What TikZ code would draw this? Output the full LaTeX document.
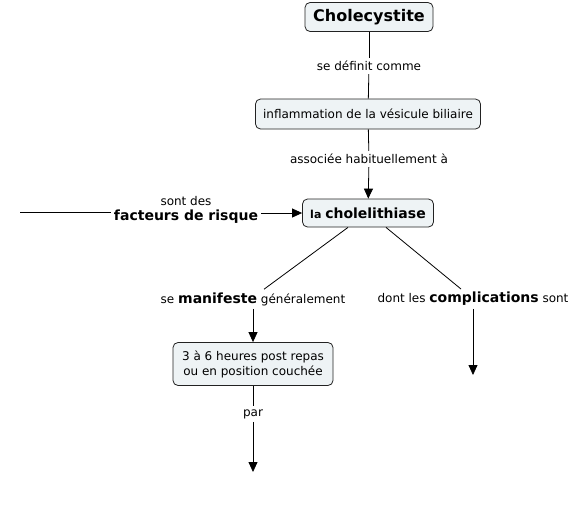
\documentclass[tikz,border=0pt]{standalone}
\usepackage{fontspec}
\setmainfont{DejaVu Sans}
\usetikzlibrary{arrows.meta}
\definecolor{conceptfill}{HTML}{EEF3F5}
\definecolor{conceptdraw}{HTML}{222222}
\tikzset{
  concept/.style={rectangle, rounded corners=5pt, draw=conceptdraw, fill=conceptfill, line width=0.8pt, align=center, inner xsep=6pt, inner ysep=4pt, font=\fontsize{12}{15}\selectfont},
  linklabel/.style={align=center, inner xsep=3pt, inner ysep=3pt, font=\fontsize{12}{15}\selectfont},
  link/.style={draw=black, line width=0.8pt},
  linkarrow/.style={-{Triangle[length=10pt,width=9pt]}, draw=black, line width=0.8pt}
}
\begin{document}
\begin{tikzpicture}[x=1pt, y=-1pt]
  \useasboundingbox (0,0) rectangle (571,509);

  \node[concept, minimum width=128pt, minimum height=29pt, font=\fontsize{16}{19}\selectfont\bfseries] (chol) at (369,17) {Cholecystite};
  \node[concept, minimum width=225pt, minimum height=30pt] (inflam) at (368,114) {inflammation de la vésicule biliaire};
  \node[concept, minimum width=131pt, minimum height=28pt] (lithiase) at (368,213) {{\fontsize{11}{13}\selectfont\bfseries la} {\fontsize{14}{16}\selectfont\bfseries cholelithiase}};
  \node[concept, minimum width=160pt, minimum height=43pt] (repas) at (253,364) {3 à 6 heures post repas\\ou en position couchée};

  \node[linklabel] (definit) at (369,66) {se définit comme};
  \node[linklabel] (associee) at (369,159) {associée habituellement à};
  \node[linklabel] (facteurs) at (186,210) {sont des\\{\fontsize{14}{16}\selectfont\bfseries facteurs de risque}};
  \node[linklabel] (manifeste) at (253,299) {se {\fontsize{14}{16}\selectfont\bfseries manifeste} généralement};
  \node[linklabel] (complic) at (473,299) {dont les {\fontsize{14}{16}\selectfont\bfseries complications} sont};
  \node[linklabel] (par) at (253,414) {par};

  \coordinate (risqueout) at (20,212);
  \coordinate (complicin) at (473,375);
  \coordinate (parin) at (253,472);

  \draw[link] (chol) -- (definit);
  \draw[link] (definit) -- (inflam);
  \draw[link] (inflam) -- (associee);
  \draw[linkarrow] (associee) -- (lithiase);
  \draw[link] (risqueout) -- (risqueout -| facteurs.west);
  \draw[linkarrow] (facteurs.east |- lithiase) -- (lithiase);
  \draw[link] ([xshift=-20pt]lithiase.south) -- ([xshift=11pt]manifeste.north);
  \draw[linkarrow] (manifeste) -- (repas);
  \draw[link] ([xshift=18pt]lithiase.south) -- ([xshift=-12pt]complic.north);
  \draw[linkarrow] (complic) -- (complicin);
  \draw[link] (repas) -- (par);
  \draw[linkarrow] (par) -- (parin);
\end{tikzpicture}
\end{document}
